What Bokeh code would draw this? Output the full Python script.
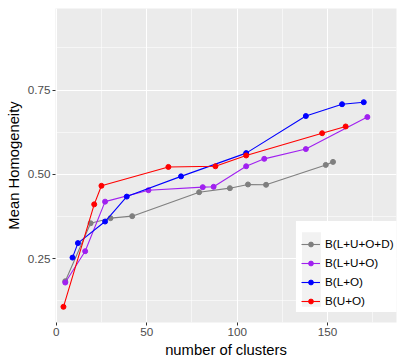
from bokeh.plotting import figure
from bokeh.models import Range1d, SingleIntervalTicker, NumeralTickFormatter, BoxAnnotation
from bokeh.embed import file_html
from bokeh.resources import INLINE

# ---- data ----
gray_x = [5, 19, 30, 42, 79, 96, 106, 116, 149, 153]
gray_y = [0.183, 0.355, 0.370, 0.376, 0.447, 0.459, 0.470, 0.469, 0.528, 0.537]

purple_x = [5, 16, 27, 51, 81, 87, 105, 115, 138, 172]
purple_y = [0.179, 0.272, 0.419, 0.453, 0.462, 0.463, 0.524, 0.546, 0.575, 0.670]

blue_x = [9, 12, 27, 39, 69, 105, 138, 158, 170]
blue_y = [0.253, 0.296, 0.360, 0.434, 0.494, 0.563, 0.673, 0.708, 0.714]

red_x = [4, 21, 25, 62, 88, 105, 147, 160]
red_y = [0.107, 0.411, 0.466, 0.522, 0.524, 0.556, 0.622, 0.642]

series_names = ["B(L+U+O+D)", "B(L+U+O)", "B(L+O)", "B(U+O)"]
series_colors = ["#7F7F7F", "#A020F0", "#0000FF", "#FF0000"]
series_x = [gray_x, purple_x, blue_x, red_x]
series_y = [gray_y, purple_y, blue_y, red_y]

x_ticks_interval = 50
y_ticks_interval = 0.25

FONT = "Liberation Sans"

p = figure(width=397, height=360, output_backend="svg", toolbar_location=None,
           x_range=Range1d(-0.4, 188.1), y_range=Range1d(0.0605, 0.992),
           min_border_left=55, min_border_right=1, min_border_top=8, min_border_bottom=36)

p.background_fill_color = "#EBEBEB"
p.border_fill_color = "white"
p.outline_line_color = None

# axes
p.xaxis.ticker = SingleIntervalTicker(interval=x_ticks_interval, num_minor_ticks=2)
p.yaxis.ticker = SingleIntervalTicker(interval=y_ticks_interval, num_minor_ticks=2)
p.yaxis.formatter = NumeralTickFormatter(format="0.00")
for ax in (p.xaxis, p.yaxis):
    ax.axis_line_color = None
    ax.major_tick_line_color = "#333333"
    ax.major_tick_line_width = 1
    ax.major_tick_out = 3
    ax.major_tick_in = 0
    ax.minor_tick_out = 0
    ax.minor_tick_in = 0
    ax.major_label_text_font = FONT
    ax.major_label_text_font_size = "11.7px"
    ax.major_label_text_color = "#4D4D4D"
    ax.major_label_standoff = 2
    ax.axis_label_text_font = FONT
    ax.axis_label_text_font_size = "14.8px"
    ax.axis_label_text_font_style = "normal"
    ax.axis_label_text_color = "black"
    ax.axis_label_standoff = 3
p.xaxis.axis_label = "number of clusters"
p.yaxis.axis_label = "Mean Homogeneity"

# grid
p.grid.grid_line_color = "white"
p.grid.grid_line_width = 1.1
p.grid.minor_grid_line_color = "white"
p.grid.minor_grid_line_width = 0.55

# legend background boxes (white box + key area)
p.add_layout(BoxAnnotation(left=132.5, right=190, bottom=0.0919, top=0.3618,
                           fill_color="white", fill_alpha=1, line_color=None, level="underlay"))
p.add_layout(BoxAnnotation(left=135.85, right=146.3, bottom=0.1075, top=0.3286,
                           fill_color="#F2F2F2", fill_alpha=1, line_color=None, level="underlay"))

for name, col, xs, ys in zip(series_names, series_colors, series_x, series_y):
    p.line(xs, ys, line_color=col, line_width=1.1, legend_label=name)
    p.scatter(xs, ys, size=5, fill_color=col, line_color=col, legend_label=name)

lg = p.legend[0]
lg.location = (246, 15)
lg.background_fill_alpha = 0
lg.border_line_color = None
lg.padding = 6
lg.spacing = 6
lg.margin = 0
lg.glyph_width = 19
lg.glyph_height = 12
lg.label_height = 12
lg.label_standoff = 5
lg.label_text_font = FONT
lg.label_text_font_size = "11.7px"
lg.label_text_color = "black"

open("out.html", "w").write(file_html(p, INLINE))
